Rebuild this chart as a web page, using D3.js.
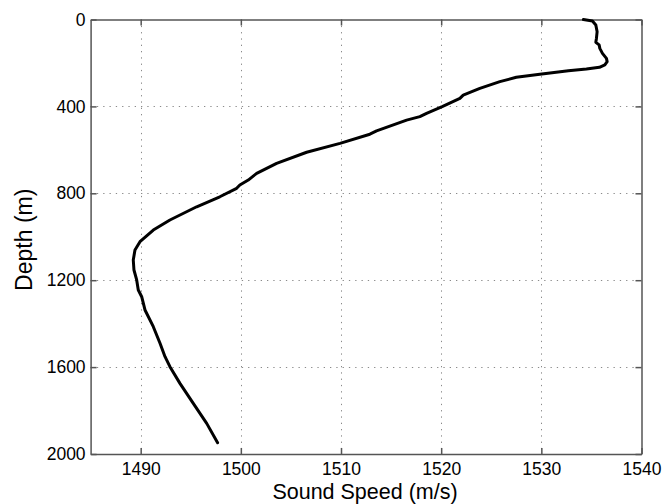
<!DOCTYPE html>
<html>
<head>
<meta charset="utf-8">
<script src="https://cdn.jsdelivr.net/npm/d3@7"></script>
<style>
html,body{margin:0;padding:0;background:#fff;}
svg{display:block;}
text{font-family:"Liberation Sans",Arial,Helvetica,sans-serif;}
</style>
</head>
<body>
<svg id="chart" width="667" height="504"></svg>
<script>
const depth = [0,7,25,56,87,105,117,133,156,179,194,209,220,228,236,252,266,286,317,348,363,401,432,447,463,513,528,570,611,662,708,739,762,777,816,862,923,969,1023,1061,1107,1153,1199,1245,1276,1337,1414,1490,1552,1598,1675,1767,1859,1948];
const speed = [1534.2,1535.1,1535.44,1535.57,1535.5,1535.44,1535.77,1535.84,1536.1,1536.5,1536.57,1536.34,1535.8,1534.5,1532.7,1529.85,1527.5,1525.86,1523.86,1522.2,1521.87,1520.1,1518.54,1517.87,1516.55,1513.55,1512.88,1509.9,1506.57,1503.57,1501.58,1500.74,1499.9,1499.58,1497.9,1495.59,1492.92,1491.26,1489.93,1489.43,1489.26,1489.33,1489.6,1489.76,1490.1,1490.43,1491.26,1491.93,1492.43,1492.92,1493.92,1495.25,1496.59,1497.68];
const xTicks = [1490,1500,1510,1520,1530,1540];
const yTicks = [0,400,800,1200,1600,2000];
const xDomain = [1485,1540];
const yDomain = [0,2000];

const L = 90.6, R = 641.5, T = 19.5, B = 454;
const svg = d3.select("#chart");
const x = d3.scaleLinear().domain(xDomain).range([L,R]);
const y = d3.scaleLinear().domain(yDomain).range([T,B]);

// grid
const grid = svg.append("g").attr("stroke","#8a8a8a").attr("stroke-width",1).attr("stroke-dasharray","1.3,5");
grid.selectAll("line.gx").data(xTicks.filter(d=>d<1540)).enter().append("line")
  .attr("x1",d=>Math.round(x(d))+0.5).attr("x2",d=>Math.round(x(d))+0.5).attr("y1",T).attr("y2",B);
grid.selectAll("line.gy").data(yTicks.filter(d=>d>0&&d<2000)).enter().append("line")
  .attr("y1",d=>Math.round(y(d))+0.5).attr("y2",d=>Math.round(y(d))+0.5).attr("x1",L).attr("x2",R);

// axes (inward ticks, all four sides)
const axCol = "#555";
const gB = svg.append("g").attr("transform",`translate(0,${B})`)
  .call(d3.axisBottom(x).tickValues(xTicks).tickSizeInner(-6).tickSizeOuter(0).tickPadding(9).tickFormat(d3.format("d")));
const gT = svg.append("g").attr("transform",`translate(0,${T})`)
  .call(d3.axisTop(x).tickValues(xTicks).tickSizeInner(-6).tickSizeOuter(0).tickFormat(""));
const gL = svg.append("g").attr("transform",`translate(${L},0)`)
  .call(d3.axisLeft(y).tickValues(yTicks).tickSizeInner(-6).tickSizeOuter(0).tickPadding(5).tickFormat(d3.format("d")));
const gR = svg.append("g").attr("transform",`translate(${R},0)`)
  .call(d3.axisRight(y).tickValues(yTicks).tickSizeInner(-6).tickSizeOuter(0).tickFormat(""));
[gB,gT,gL,gR].forEach(g=>{
  g.select(".domain").attr("stroke",axCol).attr("stroke-width",1.5);
  g.selectAll(".tick line").attr("stroke",axCol).attr("stroke-width",1.5);
  g.selectAll(".tick text").attr("fill","#000").attr("font-size",17.5).attr("font-family","Liberation Sans, Arial, sans-serif");
});

// curve
const pts = depth.map((d,i)=>[speed[i],d]);
svg.append("path").datum(pts)
  .attr("fill","none").attr("stroke","#000").attr("stroke-width",3)
  .attr("stroke-linejoin","round").attr("stroke-linecap","round")
  .attr("d", d3.line().x(p=>x(p[0])).y(p=>y(p[1])));

// labels
svg.append("text").attr("x",365).attr("y",499).attr("text-anchor","middle")
  .attr("font-size",21.5).attr("fill","#000").text("Sound Speed (m/s)");
svg.append("text").attr("transform",`translate(32,${(T+B)/2+3}) rotate(-90)`).attr("text-anchor","middle")
  .attr("font-size",23).attr("fill","#000").text("Depth (m)");
</script>
</body>
</html>
